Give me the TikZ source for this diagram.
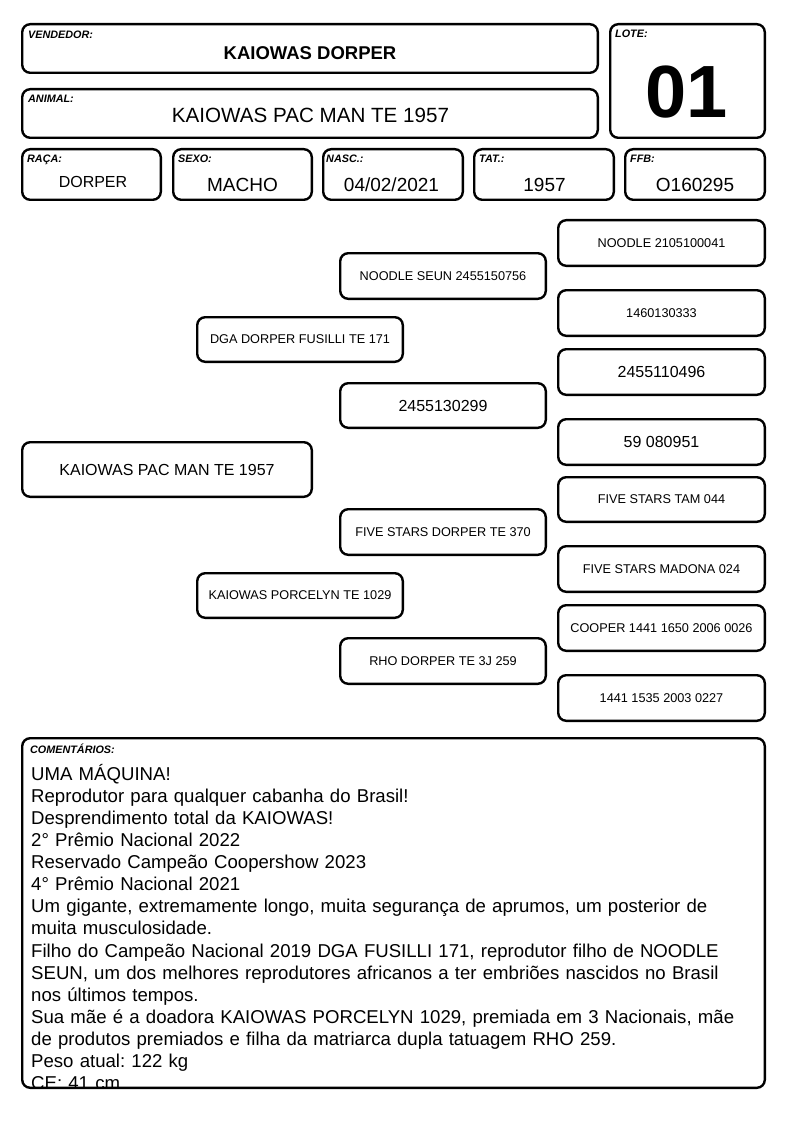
\documentclass[tikz,border=0pt]{standalone}
\usepackage{fontspec}
\setmainfont{Liberation Sans}
\newcommand\rbox[7][]{\node[rb,#1,minimum width={#5-#3-2.4},minimum height={#6-#4-2.4}] (#2) at ({(#3+#5)/2},{(#4+#6)/2}) {#7};}
\begin{document}
\frenchspacing
\begin{tikzpicture}[x=1pt,y=-1pt,
  rb/.style={draw,line width=2.4pt,rounded corners=8pt,inner sep=0pt,align=center},
  lab/.style={font=\fontsize{10.8}{12}\selectfont\bfseries\itshape,anchor=base west,inner sep=0pt},
  val/.style={font=\fontsize{19}{22}\selectfont,anchor=base,inner sep=0pt},
  sm/.style={font=\fontsize{12.7}{15}\selectfont},
  bg/.style={font=\fontsize{16}{19}\selectfont}]
\useasboundingbox (0,0) rectangle (794,1123);
% header
\rbox{vend}{21}{23}{599}{74}{}
\rbox{anim}{21}{88}{599}{139}{}
\rbox{lote}{609}{23}{766}{139}{}
\rbox{raca}{21}{148}{162}{201}{}
\rbox{sexo}{172}{148}{313}{201}{}
\rbox{nasc}{322}{148}{464}{201}{}
\rbox{tat}{473}{148}{615}{201}{}
\rbox{ffb}{624}{148}{766}{201}{}
\node[lab] (lvend) at (28,39) {VENDEDOR:};
\node[lab] (lanim) at (28,103) {ANIMAL:};
\node[lab] (llote) at (615,38) {LOTE:};
\node[lab] (lraca) at (27,163) {RAÇA:};
\node[lab] (lsexo) at (178,163) {SEXO:};
\node[lab] (lnasc) at (326,163) {NASC.:};
\node[lab] (ltat) at (479,163) {TAT.:};
\node[lab] (lffb) at (630,163) {FFB:};
\node[val,font=\fontsize{18.5}{22}\selectfont\bfseries] (tvend) at (310,60) {KAIOWAS DORPER};
\node[val,font=\fontsize{20.6}{24}\selectfont] (tanim) at (310.5,123) {KAIOWAS PAC MAN TE 1957};
\node[val,font=\fontsize{74}{80}\selectfont\bfseries] (tlote) at (687,118) {01};
\node[val,font=\fontsize{16}{19}\selectfont] (traca) at (93,188) {DORPER};
\node[val] (tsexo) at (242.5,192) {MACHO};
\node[val] (tnasc) at (391.5,192) {04/02/2021};
\node[val] (ttat) at (544.5,192) {1957};
\node[val] (tffb) at (695,192) {O160295};
% pedigree
\rbox[bg]{p0}{21}{441}{313}{498}{KAIOWAS PAC MAN TE 1957}
\rbox[sm]{p1}{196}{316}{404}{363}{DGA DORPER FUSILLI TE 171}
\rbox[sm]{p2}{196}{572}{404}{619}{KAIOWAS PORCELYN TE 1029}
\rbox[sm]{p3}{339}{252}{547}{300}{NOODLE SEUN 2455150756}
\rbox[bg]{p4}{339}{382}{547}{429}{2455130299}
\rbox[sm]{p5}{339}{508}{547}{556}{FIVE STARS DORPER TE 370}
\rbox[sm]{p6}{339}{637}{547}{685}{RHO DORPER TE 3J 259}
\rbox[sm]{p7}{557}{219}{766}{267}{NOODLE 2105100041}
\rbox[sm]{p8}{557}{289}{766}{337}{1460130333}
\rbox[bg]{p9}{557}{348}{766}{396}{2455110496}
\rbox[bg]{p10}{557}{418}{766}{466}{59 080951}
\rbox[sm]{p11}{557}{476}{766}{523}{FIVE STARS TAM 044}
\rbox[sm]{p12}{557}{545}{766}{593}{FIVE STARS MADONA 024}
\rbox[sm]{p13}{557}{604}{766}{652}{COOPER 1441 1650 2006 0026}
\rbox[sm]{p14}{557}{674}{766}{722}{1441 1535 2003 0227}
% comments
\begin{scope}
\clip (21,737) rectangle (766,1088);
\node[anchor=north west,inner sep=0pt,text width=740pt,align=left,font=\fontsize{18.6}{22.1}\selectfont] (ctext) at (31,762) {\rule{0pt}{18pt}UMA MÁQUINA!\\
Reprodutor para qualquer cabanha do Brasil!\\
Desprendimento total da KAIOWAS!\\
2° Prêmio Nacional 2022\\
Reservado Campeão Coopershow 2023\\
4° Prêmio Nacional 2021\\
Um gigante, extremamente longo, muita segurança de aprumos, um posterior de\\
muita musculosidade.\\
Filho do Campeão Nacional 2019 DGA FUSILLI 171, reprodutor filho de NOODLE\\
SEUN, um dos melhores reprodutores africanos a ter embriões nascidos no Brasil\\
nos últimos tempos.\\
Sua mãe é a doadora KAIOWAS PORCELYN 1029, premiada em 3 Nacionais, mãe\\
de produtos premiados e filha da matriarca dupla tatuagem RHO 259.\\
Peso atual: 122 kg\\
CE: 41 cm};
\end{scope}
\rbox{com}{21}{737}{766}{1089}{}
\node[lab] (lcom) at (30,753) {COMENTÁRIOS:};
\end{tikzpicture}
\end{document}
